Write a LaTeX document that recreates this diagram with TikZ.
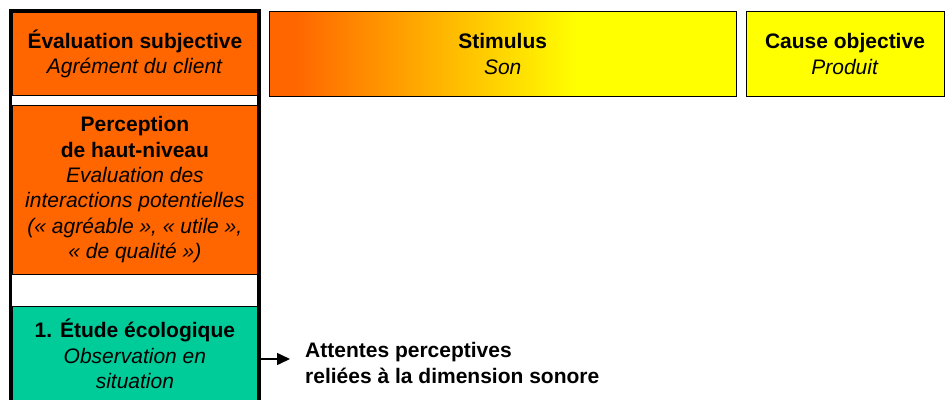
\documentclass[tikz,border=0pt]{standalone}
\usepackage{fontspec}
\setmainfont{Liberation Sans}
\usetikzlibrary{shapes,arrows.meta,positioning,calc}
\definecolor{stageorange}{RGB}{255,102,0}
\definecolor{stageyellow}{RGB}{255,255,0}
\definecolor{stagegreen}{RGB}{0,204,153}
\pgfdeclarehorizontalshading{stimulusshade}{100bp}{color(0bp)=(stageorange); color(27.7bp)=(stageorange); color(58bp)=(stageyellow); color(100bp)=(stageyellow)}

\begin{document}
\begin{tikzpicture}[x=1pt, y=-1pt,
    every node/.style={font=\fontsize{21}{25.4}\selectfont, align=center, inner sep=0pt},
    stagebox/.style={draw, rectangle, line width=0.8pt}]
    \useasboundingbox (0,0) rectangle (947,399);
    \clip (0,0) rectangle (947,399);

    \node[stagebox, anchor=north west, minimum width=245pt, minimum height=83pt, fill=stageorange] at (12,12) (subj) {\textbf{Évaluation subjective}\\\textit{Agrément du client}};
    \node[stagebox, minimum width=245pt, minimum height=169pt, fill=stageorange, below=9pt of subj] (haut) {\textbf{Perception}\\\textbf{de haut-niveau}\\\textit{Evaluation des}\\\textit{interactions potentielles}\\\textit{(« agréable », « utile »,}\\\textit{« de qualité »)}};
    \node[stagebox, minimum width=245pt, minimum height=96pt, fill=stagegreen, below=31pt of haut] (eco) {\textbf{1. Étude écologique}\\\textit{Observation en}\\\textit{situation}};

    \node[stagebox, minimum width=467pt, minimum height=85pt, shading=stimulusshade, right=11pt of subj] (stim) {\textbf{Stimulus}\\\textit{Son}};
    \node[stagebox, minimum width=198pt, minimum height=85pt, fill=stageyellow, right=9pt of stim] (cause) {\textbf{Cause objective}\\\textit{Produit}};

    \node[anchor=west, align=left] at (305,363) (attentes) {\textbf{Attentes perceptives}\\\textbf{reliées à la dimension sonore}};

    % frame round the left column
    \draw[line width=3.5pt] (10.5,410) |- (259,10.5) -- (259,410);

    \draw[line width=1.5pt, -{Triangle[length=13pt, width=12pt]}, shorten >=15pt] ([yshift=-5pt]eco.east) -- ([yshift=-5pt]eco.east -| attentes.west);
\end{tikzpicture}
\end{document}
